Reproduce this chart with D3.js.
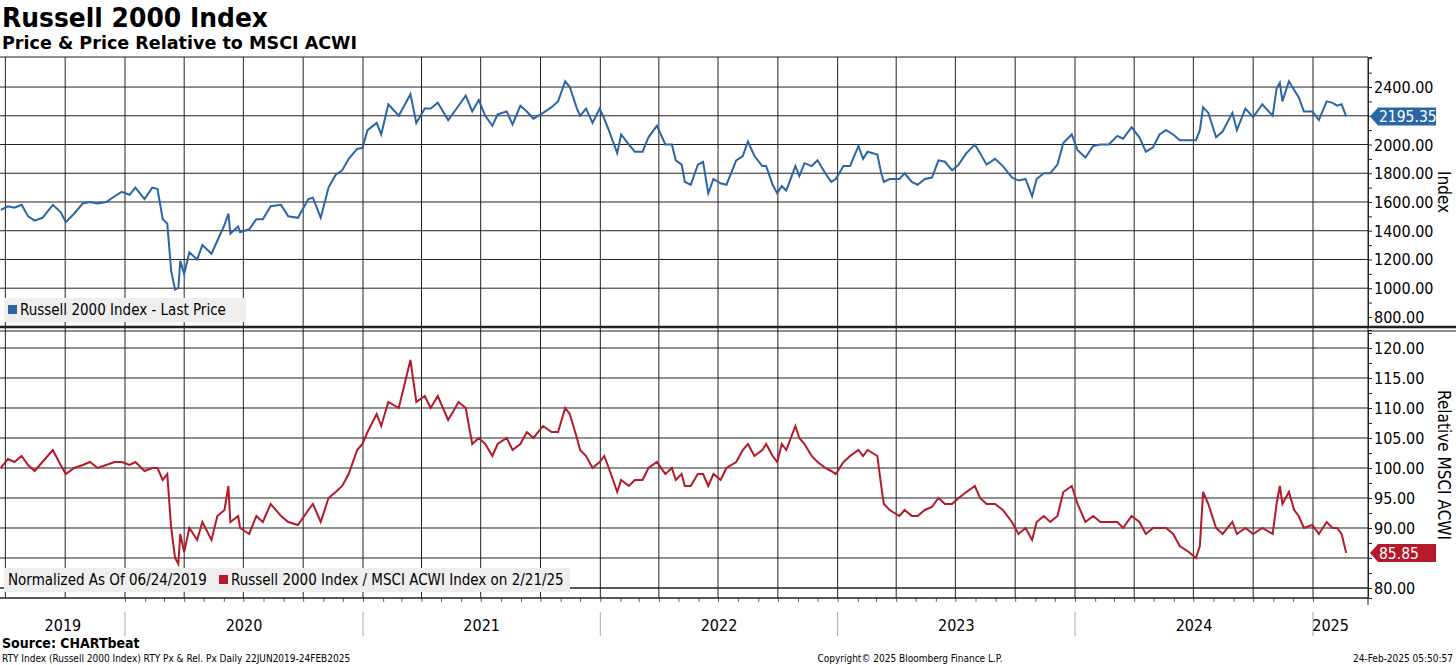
<!DOCTYPE html>
<html><head><meta charset="utf-8">
<script src="https://cdn.jsdelivr.net/npm/d3@7"></script>
<style>body{margin:0;background:#fff}svg{display:block}text{font-family:"DejaVu Sans Condensed","DejaVu Sans",sans-serif}</style>
</head><body><svg id="c" width="1456" height="665"></svg>
<script>
const priceDates=["2019-06-24","2019-07-05","2019-07-15","2019-07-26","2019-08-05","2019-08-15","2019-08-27","2019-09-12","2019-09-24","2019-10-02","2019-10-15","2019-10-28","2019-11-08","2019-11-20","2019-12-03","2019-12-16","2019-12-27","2020-01-08","2020-01-17","2020-01-31","2020-02-12","2020-02-20","2020-02-28","2020-03-06","2020-03-12","2020-03-18","2020-03-23","2020-03-26","2020-04-01","2020-04-09","2020-04-21","2020-04-29","2020-05-13","2020-05-22","2020-06-02","2020-06-08","2020-06-11","2020-06-23","2020-06-26","2020-07-10","2020-07-21","2020-07-31","2020-08-12","2020-08-28","2020-09-08","2020-09-23","2020-10-09","2020-10-16","2020-10-28","2020-11-09","2020-11-20","2020-11-30","2020-12-10","2020-12-23","2020-12-31","2021-01-08","2021-01-22","2021-01-29","2021-02-09","2021-02-25","2021-03-15","2021-03-24","2021-04-06","2021-04-15","2021-04-26","2021-05-12","2021-05-28","2021-06-08","2021-06-18","2021-06-28","2021-07-08","2021-07-19","2021-07-27","2021-08-10","2021-08-19","2021-08-31","2021-09-10","2021-09-20","2021-10-05","2021-10-18","2021-10-28","2021-11-08","2021-11-15","2021-11-26","2021-12-01","2021-12-10","2021-12-20","2021-12-31","2022-01-07","2022-01-14","2022-01-27","2022-02-02","2022-02-14","2022-02-23","2022-03-07","2022-03-16","2022-03-29","2022-04-11","2022-04-21","2022-04-27","2022-05-06","2022-05-11","2022-05-20","2022-05-31","2022-06-08","2022-06-16","2022-06-24","2022-07-05","2022-07-14","2022-07-29","2022-08-08","2022-08-16","2022-08-26","2022-09-07","2022-09-13","2022-09-23","2022-09-30","2022-10-07","2022-10-14","2022-10-28","2022-11-03","2022-11-11","2022-11-22","2022-12-01","2022-12-13","2022-12-22","2022-12-29","2023-01-10","2023-01-20","2023-02-02","2023-02-09","2023-02-16","2023-03-03","2023-03-09","2023-03-13","2023-03-22","2023-04-06","2023-04-14","2023-04-25","2023-05-04","2023-05-15","2023-05-26","2023-06-05","2023-06-15","2023-06-26","2023-07-06","2023-07-18","2023-07-31","2023-08-08","2023-08-18","2023-08-31","2023-09-12","2023-09-26","2023-10-06","2023-10-17","2023-10-27","2023-11-03","2023-11-14","2023-11-24","2023-12-05","2023-12-14","2023-12-27","2024-01-05","2024-01-17","2024-01-29","2024-02-09","2024-02-22","2024-03-06","2024-03-15","2024-03-28","2024-04-09","2024-04-19","2024-04-30","2024-05-10","2024-05-20","2024-05-31","2024-06-10","2024-06-24","2024-07-05","2024-07-11","2024-07-16","2024-07-24","2024-08-05","2024-08-15","2024-08-30","2024-09-06","2024-09-19","2024-10-01","2024-10-15","2024-10-31","2024-11-06","2024-11-11","2024-11-15","2024-11-25","2024-12-03","2024-12-10","2024-12-18","2024-12-31","2025-01-10","2025-01-22","2025-01-31","2025-02-07","2025-02-14","2025-02-21"];
const priceValues=[1545,1570,1560,1580,1500,1470,1490,1580,1530,1460,1520,1590,1600,1590,1600,1640,1670,1650,1700,1620,1700,1690,1480,1450,1120,990,1000,1190,1100,1250,1200,1300,1240,1330,1440,1520,1380,1430,1390,1410,1480,1480,1570,1580,1500,1490,1620,1630,1490,1700,1790,1820,1900,1970,1975,2100,2150,2070,2280,2200,2350,2150,2250,2250,2290,2170,2270,2340,2230,2310,2200,2130,2210,2230,2140,2270,2230,2180,2220,2260,2300,2440,2400,2250,2200,2250,2150,2250,2180,2100,1940,2070,2000,1950,1950,2050,2130,2000,2000,1890,1860,1740,1720,1860,1880,1660,1760,1730,1720,1890,1920,2020,1920,1850,1850,1720,1660,1710,1680,1850,1780,1870,1850,1890,1800,1740,1760,1850,1850,1990,1900,1950,1930,1800,1740,1760,1760,1800,1740,1720,1760,1770,1890,1880,1820,1860,1940,2000,1940,1860,1900,1850,1770,1750,1760,1640,1760,1800,1800,1860,2010,2070,1960,1910,1990,2000,2000,2060,2040,2120,2050,1950,1980,2070,2100,2070,2030,2030,2030,2100,2260,2220,2050,2090,2220,2100,2250,2190,2280,2200,2390,2430,2300,2440,2380,2330,2230,2230,2170,2300,2290,2270,2280,2195.35];
const relValues=[100,101.5,101,102,100.5,99.5,101,103,100.5,99,100,100.5,101,100,100.5,101,101,100.5,101,99.5,100,100,98,99,90,85,84,89,86,90,88,91,88,92,93,97,91,92,90,89,92,91,94,92,91,90.5,93,94,91,95,96,97,99,103,104,106,109,107,111,110,118,111,112,110,112,108,111,110,104,105,104,102,104,105,103,104,106,105,107,106,106,110,109,105,103,102,100,101,102,100,96,98,97,98,98,100,101,99,100,98,99,97,97,99,99,97,99,98,100,101,103,104,102,103,104,102,101,104,103,107,105,104,102,101,100,99.5,99,101,102,103,102,103,102,97,94,93,92,93,92,92,93,93.5,95,94,94,95,96,97,95,94,94,93,91,89,90,88,91,92,91,92,96,97,94,91,92,91,91,91,90,92,91,89,90,90,90,89,87,86,85,87,96,94,90,89,91,89,90,89,90,89,94,97,94,96,93,92,90,90.5,89,91,90,90,89,85.85];
const priceTicks=[800,1000,1200,1400,1600,1800,2000,2200,2400];
const priceLabels=[800,1000,1200,1400,1600,1800,2000,2400];
const relTicks=[80,85,90,95,100,105,110,115,120];
const relLabels=[80,90,95,100,105,110,115,120];
const yearLabels=["2019","2020","2021","2022","2023","2024","2025"];

const svg=d3.select("#c");
const P=d3.timeParse("%Y-%m-%d");
const dates=priceDates.map(P);
const L=0,R=1368;
const x=d3.scaleTime().domain([new Date(2020,0,1),new Date(2025,0,1)]).range([125,1313]);
const yT=d3.scaleLinear().domain([730,2609]).range([327,57]);
const yB=d3.scaleLinear().domain([78.33,123]).range([598,330]);
const blue="#2a66a6",red="#b5192a";

svg.append("text").attr("x",2).attr("y",27).attr("font-size",27).attr("font-weight","bold").attr("font-family","DejaVu Sans").attr("textLength",266).attr("lengthAdjust","spacingAndGlyphs").text("Russell 2000 Index");
svg.append("text").attr("x",2).attr("y",49).attr("font-size",18).attr("font-weight","bold").attr("font-family","DejaVu Sans").attr("textLength",355).attr("lengthAdjust","spacingAndGlyphs").text("Price & Price Relative to MSCI ACWI");

const qs=d3.timeMonth.every(3).range(new Date(2019,6,1),new Date(2025,2,1));
svg.append("g").selectAll("line").data(qs).join("line")
 .attr("x1",d=>x(d)).attr("x2",d=>x(d)).attr("y1",57).attr("y2",598)
 .attr("stroke","#222").attr("stroke-width",1);

svg.append("g").selectAll("line").data(priceTicks).join("line")
 .attr("x1",L).attr("x2",R).attr("y1",d=>yT(d)).attr("y2",d=>yT(d)).attr("stroke","#222").attr("stroke-width",d=>d===800?0:1);
svg.append("g").selectAll("line").data(relTicks).join("line")
 .attr("x1",L).attr("x2",R).attr("y1",d=>yB(d)).attr("y2",d=>yB(d)).attr("stroke","#222").attr("stroke-width",d=>d===80?1.5:1);

svg.append("line").attr("x1",0).attr("x2",1456).attr("y1",327).attr("y2",327).attr("stroke","#222").attr("stroke-width",2.5);
svg.append("line").attr("x1",0).attr("x2",1456).attr("y1",331).attr("y2",331).attr("stroke","#222").attr("stroke-width",1.2);
svg.append("line").attr("x1",0).attr("x2",R).attr("y1",57).attr("y2",57).attr("stroke","#222");

const ra1=svg.append("g").attr("transform",`translate(${R},0)`).call(d3.axisRight(yT).tickValues(d3.range(800,2601,100)).tickSize(4).tickFormat(""));
const ra2=svg.append("g").attr("transform",`translate(${R},0)`).call(d3.axisRight(yB).tickValues(d3.range(80,123,2.5)).tickSize(4).tickFormat(""));
[ra1,ra2].forEach(a=>{a.select(".domain").attr("stroke","#222");a.selectAll("line").attr("stroke","#222");});
svg.append("line").attr("x1",R).attr("x2",R).attr("y1",57).attr("y2",605).attr("stroke","#222");
svg.append("g").selectAll("text").data(priceLabels).join("text")
 .attr("x",R+6).attr("y",d=>yT(d)+6).attr("font-size",16).text(d=>d3.format(".2f")(d));
svg.append("g").selectAll("text").data(relLabels).join("text")
 .attr("x",R+6).attr("y",d=>yB(d)+6).attr("font-size",16).text(d=>d3.format(".2f")(d));
svg.append("text").attr("transform",`translate(1438,192) rotate(90)`).attr("text-anchor","middle").attr("font-size",17).text("Index");
svg.append("text").attr("transform",`translate(1438,465) rotate(90)`).attr("text-anchor","middle").attr("font-size",17).text("Relative MSCI ACWI");

const ma=svg.append("g").attr("transform","translate(0,598)").call(d3.axisBottom(x).ticks(d3.timeMonth.every(1)).tickSize(4).tickFormat(""));
ma.select(".domain").remove();ma.selectAll("line").attr("stroke","#666");
ma.selectAll(".tick").filter(d=>d<new Date(2019,5,20)||d>new Date(2025,2,1)).remove();
svg.append("line").attr("x1",0).attr("x2",R).attr("y1",598).attr("y2",598).attr("stroke","#222").attr("stroke-width",1.5);
const yrs=[2020,2021,2022,2023,2024,2025].map(y=>new Date(y,0,1));
svg.append("g").selectAll("line").data(yrs).join("line")
 .attr("x1",d=>x(d)).attr("x2",d=>x(d)).attr("y1",612).attr("y2",636).attr("stroke","#aaa");
const yc=[new Date(2019,5,24),...yrs,new Date(2025,1,24)];
svg.append("g").selectAll("text").data(yearLabels).join("text")
 .attr("x",(d,i)=>(x(yc[i])+x(yc[i+1]))/2).attr("y",631).attr("text-anchor","middle").attr("font-size",16).text(d=>d);

const lt=d3.line().x((d,i)=>x(dates[i])).y(d=>yT(d));
const lb=d3.line().x((d,i)=>x(dates[i])).y(d=>yB(d));
svg.append("path").attr("d",lt(priceValues)).attr("fill","none").attr("stroke",blue).attr("stroke-width",2);
svg.append("path").attr("d",lb(relValues)).attr("fill","none").attr("stroke",red).attr("stroke-width",2);

function badge(yv,label,col){
 const g=svg.append("g").attr("transform",`translate(${R},${yv})`);
 g.append("path").attr("d","M2,0 L10,-9 L68,-9 L68,9 L10,9 Z").attr("fill",col);
 g.append("text").attr("x",11).attr("y",6).attr("font-size",15.5).attr("fill","#fff").text(label);
}
badge(yT(priceValues[priceValues.length-1]),"2195.35",blue);
badge(yB(relValues[relValues.length-1]),"85.85",red);

svg.append("rect").attr("x",4).attr("y",298).attr("width",242).attr("height",24).attr("fill","#eeeeee");
svg.append("rect").attr("x",8).attr("y",305).attr("width",9).attr("height",9).attr("fill",blue);
svg.append("text").attr("x",20).attr("y",315).attr("font-size",15).text("Russell 2000 Index - Last Price");
svg.append("rect").attr("x",4).attr("y",568).attr("width",566).attr("height",24).attr("fill","#eeeeee");
svg.append("text").attr("x",8).attr("y",585).attr("font-size",15).text("Normalized As Of 06/24/2019");
svg.append("rect").attr("x",219).attr("y",575).attr("width",9).attr("height",9).attr("fill",red);
svg.append("text").attr("x",231).attr("y",585).attr("font-size",15).text("Russell 2000 Index / MSCI ACWI Index on 2/21/25");

svg.append("text").attr("x",2).attr("y",648).attr("font-size",14).attr("font-weight","bold").text("Source: CHARTbeat");
svg.append("text").attr("x",2).attr("y",662).attr("font-size",10).text("RTY Index (Russell 2000 Index) RTY Px & Rel. Px  Daily 22JUN2019-24FEB2025");
svg.append("text").attr("x",910).attr("y",662).attr("font-size",10).attr("text-anchor","middle").text("Copyright© 2025 Bloomberg Finance L.P.");
svg.append("text").attr("x",1453).attr("y",662).attr("font-size",10).attr("text-anchor","end").text("24-Feb-2025 05:50:57");
</script></body></html>
